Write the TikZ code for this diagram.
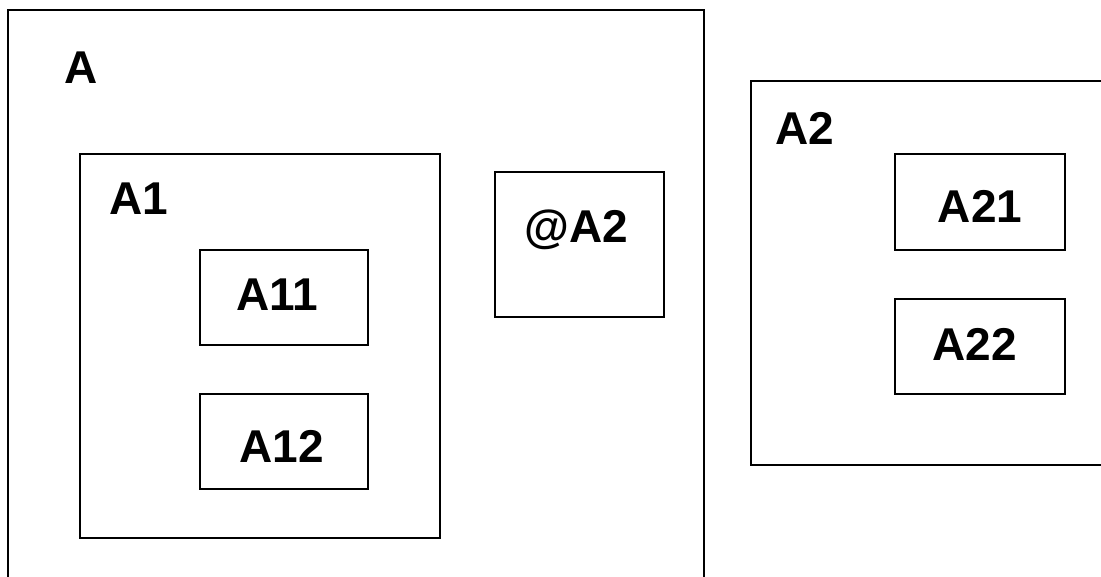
\documentclass[tikz,border=0pt]{standalone}
\usepackage{fontspec}
\setmainfont{Liberation Sans}
\begin{document}
\begin{tikzpicture}[x=1pt,y=-1pt,
  box/.style={draw,line width=2.2pt,rectangle,anchor=north west,inner sep=0pt},
  lbl/.style={font=\fontsize{46}{50}\selectfont\bfseries,inner sep=0pt,anchor=center}]
\useasboundingbox (0,0) rectangle (1101,577);
\fill[white] (0,0) rectangle (1101,577);
\begin{scope}
\clip (0,0) rectangle (1101,577);
% outer boxes
\node[box,minimum width=696pt,minimum height=620pt] (Abox) at (7,9) {};
\node[box,minimum width=400pt,minimum height=384pt] (A2box) at (750,80) {};
\end{scope}
% inner boxes
\node[box,minimum width=360pt,minimum height=384pt] (A1box) at (79,153) {};
\node[box,minimum width=168pt,minimum height=95pt] (A11box) at (199,249) {};
\node[box,minimum width=168pt,minimum height=95pt] (A12box) at (199,393) {};
\node[box,minimum width=169pt,minimum height=145pt] (A2refbox) at (494,171) {};
\node[box,minimum width=170pt,minimum height=96pt] (A21box) at (894,153) {};
\node[box,minimum width=170pt,minimum height=95pt] (A22box) at (894,298) {};
% labels
\node[lbl] (A) at (81.5,68) {A};
\node[lbl] (A1) at (139,198.5) {A1};
\node[lbl] (A11) at (277.5,295) {A11};
\node[lbl] (A12) at (281.5,446.5) {A12};
\node[lbl] (A2ref) at (576,230) {@A2};
\node[lbl] (A2) at (804.5,128.5) {A2};
\node[lbl] (A21) at (980,206.5) {A21};
\node[lbl] (A22) at (974.5,344) {A22};
\end{tikzpicture}
\end{document}
